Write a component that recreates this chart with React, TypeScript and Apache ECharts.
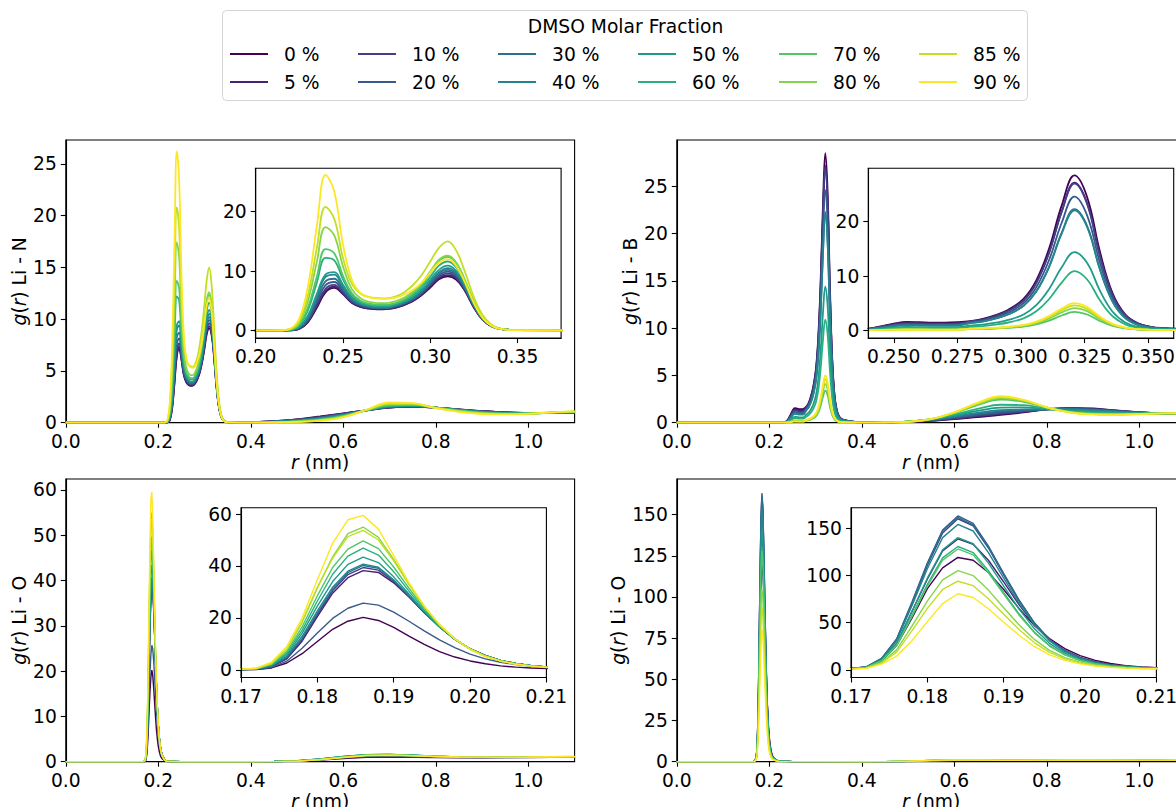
import React, { useEffect, useRef } from "react";
import * as echarts from "echarts";

const fractions = ["0 %", "5 %", "10 %", "20 %", "30 %", "40 %", "50 %", "60 %", "70 %", "80 %", "85 %", "90 %"];
const colors = ["#440154", "#482173", "#433e85", "#38598c", "#2d708e", "#25858e", "#1e9b8a", "#2ab07f", "#52c569", "#86d549", "#c2df23", "#fde725"];

// ---------- Li - N ----------
const rN = [0, 0.2, 0.21, 0.215, 0.22, 0.225, 0.23, 0.235, 0.24, 0.245, 0.25, 0.255, 0.26, 0.265, 0.27, 0.275, 0.28, 0.285, 0.29, 0.295, 0.3, 0.305, 0.31, 0.315, 0.32, 0.325, 0.33, 0.335, 0.34, 0.35, 0.4, 0.45, 0.5, 0.55, 0.6, 0.65, 0.7, 0.75, 0.8, 0.85, 0.9, 0.95, 1.0, 1.05, 1.1];
const gLiN: number[][] = [
  // 0 %
  [0, 0, 0, 0, 0.02, 0.25, 1.4, 3.8, 6.4, 7.15, 6.1, 4.65, 3.95, 3.65, 3.55, 3.6, 3.8, 4.25, 4.9, 5.9, 7.2, 8.6, 9.1, 8.5, 6.6, 3.85, 1.8, 0.72, 0.24, 0.03, 0.05, 0.15, 0.33, 0.6, 0.9, 1.2, 1.45, 1.55, 1.45, 1.28, 1.12, 1.0, 0.95, 0.93, 0.95],
  // 5 %
  [0, 0, 0, 0, 0.02, 0.3, 1.5, 4.0, 6.6, 7.35, 6.2, 4.7, 4.0, 3.7, 3.6, 3.6, 3.85, 4.3, 5.0, 6.0, 7.4, 8.8, 9.3, 8.7, 6.7, 3.9, 1.8, 0.72, 0.24, 0.03, 0.05, 0.14, 0.31, 0.57, 0.88, 1.2, 1.45, 1.55, 1.45, 1.28, 1.12, 1.0, 0.95, 0.93, 0.96],
  // 10 %
  [0, 0, 0, 0, 0.03, 0.35, 1.6, 4.3, 7.0, 7.65, 6.4, 4.8, 4.1, 3.8, 3.7, 3.7, 3.95, 4.4, 5.1, 6.1, 7.6, 9.0, 9.6, 8.9, 6.8, 4.0, 1.85, 0.73, 0.24, 0.03, 0.04, 0.13, 0.29, 0.54, 0.85, 1.2, 1.47, 1.56, 1.45, 1.27, 1.1, 0.99, 0.94, 0.94, 0.97],
  // 20 %
  [0, 0, 0, 0, 0.04, 0.4, 1.8, 4.8, 7.6, 8.15, 6.7, 5.0, 4.25, 3.9, 3.75, 3.8, 4.05, 4.5, 5.2, 6.3, 7.8, 9.3, 9.9, 9.2, 7.0, 4.1, 1.9, 0.75, 0.25, 0.03, 0.04, 0.12, 0.26, 0.5, 0.82, 1.2, 1.5, 1.58, 1.46, 1.26, 1.08, 0.97, 0.93, 0.94, 0.98],
  // 30 %
  [0, 0, 0, 0, 0.05, 0.45, 2.0, 5.2, 8.25, 8.7, 7.0, 5.2, 4.35, 3.95, 3.8, 3.8, 4.1, 4.6, 5.3, 6.4, 8.0, 9.6, 10.2, 9.4, 7.1, 4.2, 1.9, 0.76, 0.25, 0.03, 0.03, 0.1, 0.23, 0.46, 0.78, 1.2, 1.52, 1.6, 1.46, 1.25, 1.06, 0.95, 0.92, 0.95, 0.99],
  // 40 %
  [0, 0, 0, 0.01, 0.07, 0.55, 2.3, 5.8, 9.0, 9.4, 7.4, 5.4, 4.5, 4.05, 3.9, 3.9, 4.2, 4.7, 5.5, 6.6, 8.2, 9.8, 10.5, 9.7, 7.3, 4.3, 1.95, 0.78, 0.26, 0.03, 0.03, 0.09, 0.2, 0.42, 0.75, 1.2, 1.55, 1.62, 1.46, 1.24, 1.04, 0.93, 0.91, 0.95, 1.0],
  // 50 %
  [0, 0, 0, 0.01, 0.08, 0.6, 2.5, 6.1, 9.4, 9.8, 7.7, 5.6, 4.6, 4.15, 4.0, 4.0, 4.3, 4.8, 5.6, 6.8, 8.5, 10.2, 10.9, 10.0, 7.5, 4.4, 2.0, 0.8, 0.26, 0.03, 0.02, 0.08, 0.18, 0.38, 0.72, 1.2, 1.58, 1.64, 1.46, 1.22, 1.02, 0.91, 0.9, 0.96, 1.01],
  // 60 %
  [0, 0, 0, 0.01, 0.12, 0.9, 3.4, 8.0, 12.2, 11.8, 8.6, 6.0, 4.8, 4.35, 4.2, 4.2, 4.5, 5.0, 5.9, 7.2, 9.0, 10.9, 11.6, 10.6, 7.9, 4.6, 2.1, 0.8, 0.27, 0.03, 0.02, 0.07, 0.16, 0.34, 0.68, 1.2, 1.62, 1.67, 1.46, 1.2, 1.0, 0.9, 0.9, 0.97, 1.03],
  // 70 %
  [0, 0, 0, 0.01, 0.15, 1.0, 3.9, 9.0, 13.7, 13.0, 9.2, 6.3, 5.0, 4.5, 4.3, 4.3, 4.6, 5.2, 6.2, 7.6, 9.6, 11.7, 12.4, 11.3, 8.3, 4.8, 2.2, 0.85, 0.28, 0.03, 0.01, 0.05, 0.13, 0.3, 0.64, 1.2, 1.68, 1.72, 1.45, 1.17, 0.97, 0.88, 0.89, 0.98, 1.05],
  // 80 %
  [0, 0, 0, 0.02, 0.2, 1.3, 5.0, 11.5, 17.4, 16.0, 10.8, 7.0, 5.4, 4.8, 4.6, 4.6, 4.9, 5.5, 6.5, 7.9, 9.9, 11.9, 12.6, 11.4, 8.4, 4.8, 2.2, 0.85, 0.28, 0.03, 0.01, 0.04, 0.11, 0.26, 0.6, 1.22, 1.76, 1.78, 1.44, 1.13, 0.93, 0.86, 0.88, 0.99, 1.07],
  // 85 %
  [0, 0, 0, 0.02, 0.25, 1.6, 6.0, 13.8, 20.8, 18.8, 12.2, 7.9, 6.2, 5.6, 5.45, 5.4, 5.7, 6.4, 7.6, 9.3, 11.6, 13.9, 15.0, 13.4, 9.8, 5.6, 2.6, 1.0, 0.3, 0.03, 0.01, 0.03, 0.09, 0.23, 0.56, 1.25, 1.85, 1.84, 1.42, 1.08, 0.88, 0.82, 0.87, 1.0, 1.09],
  // 90 %
  [0, 0, 0, 0.02, 0.3, 2.0, 7.5, 17.5, 26.2, 23.4, 14.5, 8.6, 6.3, 5.6, 5.35, 5.3, 5.5, 6.0, 6.8, 8.0, 9.7, 11.4, 12.0, 10.8, 8.0, 4.6, 2.1, 0.8, 0.25, 0.02, 0.0, 0.02, 0.07, 0.2, 0.52, 1.25, 1.95, 1.9, 1.4, 1.04, 0.84, 0.8, 0.86, 1.0, 1.1],
];

// ---------- Li - B ----------
const rB = [0, 0.22, 0.23, 0.235, 0.24, 0.245, 0.25, 0.255, 0.26, 0.265, 0.27, 0.275, 0.28, 0.285, 0.29, 0.295, 0.301, 0.306, 0.311, 0.316, 0.321, 0.326, 0.331, 0.336, 0.341, 0.346, 0.351, 0.356, 0.361, 0.37, 0.4, 0.45, 0.5, 0.55, 0.6, 0.65, 0.7, 0.75, 0.8, 0.85, 0.9, 0.95, 1.0, 1.05, 1.1];
const gLiB: number[][] = [
  // 0 %
  [0, 0, 0.02, 0.08, 0.3, 0.75, 1.25, 1.55, 1.5, 1.42, 1.42, 1.5, 1.7, 2.1, 2.8, 3.8, 5.8, 9.2, 15.0, 23.0, 28.5, 24.5, 14.5, 6.8, 2.9, 1.3, 0.65, 0.4, 0.3, 0.2, 0.02, 0.03, 0.08, 0.2, 0.38, 0.6, 0.82, 1.1, 1.4, 1.55, 1.5, 1.3, 1.12, 1.0, 0.95],
  // 5 %
  [0, 0, 0.02, 0.07, 0.27, 0.68, 1.12, 1.4, 1.35, 1.28, 1.28, 1.35, 1.62, 2.0, 2.67, 3.63, 5.53, 8.78, 14.3, 21.9, 27.2, 23.4, 13.8, 6.49, 2.77, 1.24, 0.62, 0.38, 0.29, 0.19, 0.02, 0.03, 0.09, 0.22, 0.42, 0.66, 0.9, 1.15, 1.42, 1.54, 1.47, 1.28, 1.1, 1.0, 0.95],
  // 10 %
  [0, 0, 0.02, 0.07, 0.25, 0.62, 1.04, 1.29, 1.25, 1.18, 1.18, 1.25, 1.61, 1.99, 2.65, 3.6, 5.49, 8.71, 14.2, 21.8, 27.0, 23.2, 13.7, 6.44, 2.75, 1.23, 0.62, 0.38, 0.28, 0.19, 0.02, 0.03, 0.09, 0.24, 0.47, 0.73, 0.98, 1.2, 1.42, 1.52, 1.44, 1.26, 1.09, 0.99, 0.95],
  // 20 %
  [0, 0, 0.01, 0.06, 0.22, 0.55, 0.92, 1.14, 1.1, 1.04, 1.04, 1.1, 1.47, 1.81, 2.42, 3.28, 5.0, 7.94, 12.9, 19.8, 24.6, 21.1, 12.5, 5.87, 2.5, 1.12, 0.56, 0.35, 0.26, 0.17, 0.02, 0.03, 0.1, 0.27, 0.53, 0.82, 1.08, 1.26, 1.42, 1.48, 1.4, 1.23, 1.08, 0.99, 0.96],
  // 30 %
  [0, 0, 0.01, 0.05, 0.2, 0.5, 0.83, 1.03, 1.0, 0.95, 0.95, 1.0, 1.33, 1.64, 2.19, 2.97, 4.54, 7.19, 11.7, 18.0, 22.3, 19.2, 11.3, 5.32, 2.27, 1.02, 0.51, 0.31, 0.23, 0.16, 0.01, 0.03, 0.11, 0.3, 0.6, 0.93, 1.2, 1.33, 1.42, 1.44, 1.35, 1.2, 1.06, 0.99, 0.96],
  // 40 %
  [0, 0, 0.01, 0.05, 0.18, 0.45, 0.75, 0.93, 0.9, 0.85, 0.85, 0.9, 1.32, 1.63, 2.17, 2.95, 4.5, 7.13, 11.6, 17.8, 22.1, 19.0, 11.2, 5.27, 2.25, 1.01, 0.5, 0.31, 0.23, 0.16, 0.01, 0.03, 0.12, 0.33, 0.68, 1.05, 1.32, 1.4, 1.42, 1.4, 1.3, 1.17, 1.05, 0.99, 0.97],
  // 50 %
  [0, 0, 0.01, 0.03, 0.12, 0.3, 0.5, 0.62, 0.6, 0.57, 0.57, 0.6, 0.86, 1.06, 1.41, 1.92, 2.93, 4.65, 7.58, 11.6, 14.4, 12.4, 7.32, 3.43, 1.46, 0.66, 0.33, 0.2, 0.15, 0.1, 0.01, 0.03, 0.12, 0.36, 0.78, 1.25, 1.6, 1.62, 1.45, 1.3, 1.18, 1.08, 1.02, 0.99, 0.98],
  // 60 %
  [0, 0, 0, 0.02, 0.09, 0.23, 0.38, 0.47, 0.45, 0.43, 0.43, 0.45, 0.65, 0.8, 1.07, 1.45, 2.22, 3.51, 5.73, 8.79, 10.9, 9.36, 5.54, 2.6, 1.11, 0.5, 0.25, 0.15, 0.11, 0.08, 0.01, 0.03, 0.12, 0.38, 0.86, 1.45, 1.9, 1.85, 1.5, 1.2, 1.05, 1.0, 0.99, 0.99, 0.99],
  // 70 %
  [0, 0, 0, 0.01, 0.04, 0.1, 0.17, 0.21, 0.2, 0.19, 0.19, 0.2, 0.22, 0.26, 0.34, 0.46, 0.69, 1.1, 1.79, 2.74, 3.4, 2.92, 1.73, 0.81, 0.35, 0.15, 0.08, 0.05, 0.04, 0.02, 0.0, 0.02, 0.11, 0.38, 1.0, 1.85, 2.45, 2.2, 1.6, 1.15, 0.95, 0.9, 0.94, 0.98, 1.0],
  // 80 %
  [0, 0, 0, 0.01, 0.04, 0.09, 0.15, 0.19, 0.18, 0.17, 0.17, 0.18, 0.25, 0.3, 0.4, 0.55, 0.84, 1.32, 2.16, 3.31, 4.1, 3.53, 2.09, 0.98, 0.42, 0.19, 0.09, 0.06, 0.04, 0.03, 0.0, 0.02, 0.1, 0.38, 1.05, 1.95, 2.6, 2.3, 1.6, 1.12, 0.92, 0.88, 0.93, 0.98, 1.0],
  // 85 %
  [0, 0, 0, 0.01, 0.03, 0.08, 0.13, 0.16, 0.15, 0.14, 0.14, 0.15, 0.27, 0.34, 0.45, 0.61, 0.93, 1.48, 2.42, 3.7, 4.6, 3.94, 2.33, 1.09, 0.47, 0.21, 0.1, 0.06, 0.05, 0.03, 0.0, 0.02, 0.1, 0.39, 1.08, 2.05, 2.72, 2.38, 1.62, 1.1, 0.9, 0.86, 0.92, 0.98, 1.01],
  // 90 %
  [0, 0, 0, 0.01, 0.02, 0.06, 0.1, 0.12, 0.12, 0.11, 0.11, 0.12, 0.3, 0.37, 0.49, 0.67, 1.02, 1.61, 2.63, 4.03, 5.0, 4.29, 2.54, 1.19, 0.51, 0.23, 0.11, 0.07, 0.05, 0.04, 0.0, 0.02, 0.1, 0.4, 1.1, 2.1, 2.8, 2.42, 1.62, 1.08, 0.88, 0.85, 0.91, 0.98, 1.01],
];

// ---------- Li - O (both lower panels share this r grid) ----------
const rO = [0, 0.166, 0.168, 0.17, 0.172, 0.174, 0.176, 0.178, 0.18, 0.182, 0.184, 0.186, 0.188, 0.19, 0.192, 0.194, 0.196, 0.198, 0.2, 0.202, 0.204, 0.206, 0.208, 0.21, 0.214, 0.22, 0.25, 0.4, 0.45, 0.5, 0.55, 0.6, 0.65, 0.7, 0.75, 0.8, 0.85, 0.9, 0.95, 1.0, 1.05, 1.1];
const gLiO: number[][] = [
  // 0 %
  [0, 0, 0, 0.0, 0.1, 0.7, 2.6, 6.2, 10.9, 15.6, 18.7, 20.2, 19.0, 16.3, 13.0, 9.8, 7.0, 4.9, 3.4, 2.3, 1.5, 1.0, 0.7, 0.5, 0.2, 0.03, 0, 0, 0.02, 0.1, 0.35, 0.7, 0.95, 1.0, 0.95, 0.9, 0.88, 0.88, 0.9, 0.92, 0.95, 0.97],
  // 5 %
  [0, 0, 0, 0.1, 0.3, 1.2, 4.2, 11.0, 20.5, 29.5, 35.5, 38.2, 37.5, 33.5, 28.0, 22.0, 16.5, 11.7, 8.0, 5.4, 3.6, 2.4, 1.6, 1.1, 0.4, 0.04, 0, 0, 0.03, 0.15, 0.5, 1.0, 1.35, 1.4, 1.3, 1.15, 1.05, 1.0, 0.98, 0.98, 1.0, 1.02],
  // 10 %
  [0, 0, 0, 0.1, 0.3, 1.3, 4.5, 11.6, 21.2, 30.4, 36.7, 39.4, 38.4, 34.0, 28.3, 22.2, 16.6, 11.8, 8.1, 5.5, 3.6, 2.4, 1.6, 1.1, 0.4, 0.04, 0, 0, 0.03, 0.16, 0.52, 1.05, 1.4, 1.45, 1.32, 1.16, 1.05, 1.0, 0.98, 0.98, 1.0, 1.03],
  // 20 %
  [0, 0, 0, 0.0, 0.2, 0.9, 3.3, 8.3, 14.2, 19.8, 23.7, 25.7, 24.9, 22.2, 18.7, 15.0, 11.5, 8.5, 6.0, 4.2, 2.9, 2.0, 1.4, 1.0, 0.35, 0.04, 0, 0, 0.02, 0.12, 0.42, 0.85, 1.15, 1.2, 1.1, 1.0, 0.95, 0.93, 0.93, 0.95, 0.97, 0.99],
  // 30 %
  [0, 0, 0, 0.1, 0.3, 1.4, 4.8, 12.0, 21.8, 31.0, 37.4, 40.2, 39.1, 34.4, 28.5, 22.3, 16.6, 11.8, 8.1, 5.5, 3.6, 2.4, 1.6, 1.1, 0.4, 0.04, 0, 0, 0.04, 0.18, 0.56, 1.1, 1.48, 1.52, 1.38, 1.18, 1.05, 1.0, 0.98, 0.99, 1.01, 1.04],
  // 40 %
  [0, 0, 0, 0.1, 0.4, 1.5, 5.2, 12.8, 22.7, 31.8, 38.0, 40.7, 39.5, 34.7, 28.6, 22.3, 16.6, 11.8, 8.0, 5.4, 3.6, 2.4, 1.6, 1.1, 0.4, 0.04, 0, 0, 0.04, 0.2, 0.6, 1.15, 1.55, 1.6, 1.42, 1.2, 1.06, 1.0, 0.98, 0.99, 1.02, 1.05],
  // 50 %
  [0, 0, 0, 0.1, 0.4, 1.7, 5.8, 14.0, 24.5, 34.0, 40.6, 43.4, 41.3, 35.8, 29.2, 22.5, 16.6, 11.8, 8.0, 5.4, 3.6, 2.4, 1.6, 1.1, 0.4, 0.04, 0, 0, 0.04, 0.2, 0.6, 1.15, 1.57, 1.62, 1.45, 1.22, 1.07, 1.0, 0.98, 0.99, 1.02, 1.06],
  // 60 %
  [0, 0, 0, 0.1, 0.4, 1.9, 6.4, 15.2, 26.5, 36.8, 43.8, 46.9, 44.2, 37.8, 30.3, 23.0, 16.8, 11.8, 8.0, 5.3, 3.5, 2.3, 1.5, 1.0, 0.35, 0.04, 0, 0, 0.03, 0.18, 0.56, 1.1, 1.52, 1.58, 1.42, 1.2, 1.06, 1.0, 0.98, 1.0, 1.03, 1.08],
  // 70 %
  [0, 0, 0, 0.1, 0.5, 2.1, 7.0, 16.5, 28.5, 39.4, 46.5, 49.7, 46.7, 39.6, 31.4, 23.6, 17.0, 11.9, 8.0, 5.3, 3.5, 2.3, 1.5, 1.0, 0.35, 0.04, 0, 0, 0.03, 0.16, 0.52, 1.05, 1.47, 1.52, 1.38, 1.18, 1.05, 1.0, 0.99, 1.01, 1.05, 1.1],
  // 80 %
  [0, 0, 0, 0.2, 0.5, 2.4, 7.8, 18.2, 31.5, 43.5, 52.5, 55.0, 51.0, 42.5, 33.0, 24.4, 17.3, 11.9, 8.0, 5.2, 3.4, 2.2, 1.5, 1.0, 0.35, 0.04, 0, 0, 0.02, 0.14, 0.48, 1.0, 1.42, 1.48, 1.35, 1.16, 1.04, 1.0, 0.99, 1.02, 1.07, 1.12],
  // 85 %
  [0, 0, 0, 0.2, 0.5, 2.4, 7.9, 18.6, 31.8, 43.0, 51.3, 53.7, 50.0, 42.0, 32.8, 24.3, 17.3, 11.9, 8.0, 5.2, 3.4, 2.2, 1.5, 1.0, 0.35, 0.04, 0, 0, 0.02, 0.13, 0.45, 0.96, 1.38, 1.45, 1.33, 1.15, 1.04, 1.0, 1.0, 1.03, 1.08, 1.14],
  // 90 %
  [0, 0, 0, 0.2, 0.6, 2.9, 9.0, 19.9, 34.7, 48.8, 57.8, 59.5, 54.2, 44.0, 33.6, 24.6, 17.4, 11.9, 7.9, 5.1, 3.3, 2.1, 1.4, 0.9, 0.3, 0.03, 0, 0, 0.02, 0.12, 0.42, 0.92, 1.33, 1.42, 1.31, 1.14, 1.03, 1.0, 1.0, 1.04, 1.1, 1.16],
];
const gLiO2: number[][] = [
  // 0 %
  [0, 0, 0.3, 1.0, 2.5, 9.0, 26, 55, 86, 108, 119, 116, 103, 85, 65, 47, 33, 22.5, 15, 10, 6.6, 4.4, 3.0, 2.2, 1.2, 0.4, 0.03, 0, 0.03, 0.15, 0.45, 0.7, 0.85, 0.9, 1.0, 1.15, 1.2, 1.1, 1.0, 0.97, 0.98, 1.0],
  // 5 %
  [0, 0, 0.3, 1.2, 2.6, 10.2, 28, 62, 96, 126, 138.6, 133, 116, 93, 69, 48, 32, 20.5, 13.2, 8.5, 5.6, 3.8, 2.7, 2.1, 1.1, 0.4, 0.03, 0, 0.03, 0.17, 0.5, 0.78, 0.9, 0.9, 0.98, 1.12, 1.18, 1.1, 1.0, 0.97, 0.98, 1.0],
  // 10 %
  [0, 0, 0.4, 1.5, 2.9, 11.5, 32, 70, 110.5, 145, 160, 152.5, 129, 100.5, 73, 49.3, 31.6, 19.8, 12.4, 7.7, 5.0, 3.5, 2.5, 2.0, 1.1, 0.4, 0.03, 0, 0.04, 0.2, 0.55, 0.85, 0.93, 0.9, 0.96, 1.1, 1.16, 1.09, 1.0, 0.97, 0.98, 1.0],
  // 20 %
  [0, 0, 0.4, 1.5, 3.0, 12, 33, 72, 113, 148, 163, 155, 131, 102, 74, 50, 32, 20, 12.5, 7.8, 5.0, 3.5, 2.5, 2.0, 1.1, 0.4, 0.03, 0, 0.04, 0.21, 0.58, 0.88, 0.95, 0.9, 0.95, 1.09, 1.15, 1.09, 1.0, 0.97, 0.98, 1.0],
  // 30 %
  [0, 0, 0.4, 1.5, 3.0, 11.8, 32.5, 71, 112, 147, 161.5, 153.5, 130, 101.5, 73.5, 49.7, 31.8, 19.9, 12.4, 7.8, 5.0, 3.5, 2.5, 2.0, 1.1, 0.4, 0.03, 0, 0.04, 0.22, 0.62, 0.92, 0.97, 0.9, 0.93, 1.07, 1.14, 1.08, 1.0, 0.97, 0.98, 1.0],
  // 40 %
  [0, 0, 0.4, 1.4, 2.8, 11.2, 31, 68, 107, 140, 154, 147, 124, 97, 70.5, 47.7, 30.6, 19.2, 12.0, 7.5, 4.8, 3.4, 2.4, 1.9, 1.0, 0.4, 0.03, 0, 0.05, 0.24, 0.66, 0.96, 0.99, 0.89, 0.91, 1.05, 1.13, 1.08, 1.01, 0.97, 0.98, 1.0],
  // 50 %
  [0, 0, 0.3, 1.3, 2.6, 10.2, 28, 62, 97, 127, 140, 133.5, 113, 88.5, 64.5, 43.6, 28.0, 17.6, 11.0, 6.9, 4.5, 3.1, 2.2, 1.8, 1.0, 0.35, 0.03, 0, 0.05, 0.25, 0.7, 1.0, 1.01, 0.88, 0.89, 1.03, 1.12, 1.08, 1.01, 0.97, 0.98, 1.0],
  // 60 %
  [0, 0, 0.3, 1.2, 2.4, 9.6, 26.4, 57.7, 90.5, 118.6, 130.6, 124.2, 105, 81.7, 59.3, 40.1, 25.6, 16.0, 10.0, 6.3, 4.0, 2.8, 2.0, 1.6, 0.9, 0.3, 0.02, 0, 0.05, 0.27, 0.73, 1.03, 1.03, 0.87, 0.88, 1.02, 1.11, 1.07, 1.01, 0.97, 0.98, 1.0],
  // 70 %
  [0, 0, 0.3, 1.2, 2.4, 9.4, 25.9, 56.5, 88.7, 116.2, 128, 121.7, 102.8, 80.1, 58.1, 39.3, 25.1, 15.7, 9.8, 6.1, 3.9, 2.7, 2.0, 1.6, 0.9, 0.3, 0.02, 0, 0.05, 0.28, 0.76, 1.06, 1.04, 0.86, 0.86, 1.0, 1.1, 1.07, 1.01, 0.97, 0.98, 1.0],
  // 80 %
  [0, 0, 0.2, 1.0, 1.9, 7.7, 21.3, 46.4, 72.8, 95.3, 105, 99.8, 84.4, 65.7, 47.7, 32.2, 20.6, 12.9, 8.1, 5.0, 3.2, 2.3, 1.6, 1.3, 0.7, 0.25, 0.02, 0, 0.05, 0.29, 0.78, 1.08, 1.05, 0.85, 0.85, 0.99, 1.1, 1.07, 1.01, 0.97, 0.98, 1.0],
  // 85 %
  [0, 0, 0.2, 0.9, 1.7, 6.9, 19.0, 41.4, 65.0, 85.1, 93.8, 89.1, 75.3, 58.7, 42.6, 28.8, 18.4, 11.5, 7.2, 4.5, 2.9, 2.0, 1.4, 1.2, 0.6, 0.2, 0.02, 0, 0.05, 0.3, 0.8, 1.1, 1.05, 0.85, 0.84, 0.98, 1.09, 1.06, 1.01, 0.97, 0.98, 1.0],
  // 90 %
  [0, 0, 0.2, 0.7, 1.5, 5.9, 14.5, 31.0, 51.0, 70.0, 80.5, 76.6, 64.7, 50.4, 36.6, 24.7, 15.8, 9.9, 6.2, 3.9, 2.5, 1.7, 1.2, 1.0, 0.5, 0.2, 0.02, 0, 0.05, 0.3, 0.8, 1.1, 1.05, 0.85, 0.84, 0.98, 1.1, 1.05, 0.98, 0.96, 0.98, 1.0],
];

// ---------- tick labels ----------
const mainXTicks = [0, 0.2, 0.4, 0.6, 0.8, 1.0];
const yTicksN = [0, 5, 10, 15, 20, 25];
const yTicksB = [0, 5, 10, 15, 20, 25];
const yTicksO = [0, 10, 20, 30, 40, 50, 60];
const yTicksO2 = [0, 25, 50, 75, 100, 125, 150];
const insetXTicksN = [0.2, 0.25, 0.3, 0.35];
const insetXTicksB = [0.25, 0.275, 0.3, 0.325, 0.35];
const insetXTicksO = [0.17, 0.18, 0.19, 0.2, 0.21];
const insetYTicksN = [0, 10, 20];
const insetYTicksB = [0, 10, 20];
const insetYTicksO = [0, 20, 40, 60];
const insetYTicksO2 = [0, 50, 100, 150];
const yLabels = ["Li - N", "Li - B", "Li - O", "Li - O"];

const FONT = "DejaVu Sans";
const FS = 18.7;
const AX = "#000";

function buildOption() {
  const MW = 508.8, MH = 282.7, IW = 305.4, IH = 169.8;
  const panels = [
    { r: rN, g: gLiN, smooth: 0.4, lw: 1.8, left: 65.8, top: 140, ymax: 27.3, yt: yTicksN,
      inset: { left: 255.7, top: 168.3, xmin: 0.2, xmax: 0.375, ymin: -1.3, ymax: 27.3, xt: insetXTicksN, dec: 2, yt: insetYTicksN } },
    { r: rB, g: gLiB, smooth: 0.4, lw: 1.8, left: 676.8, top: 140, ymax: 29.9, yt: yTicksB,
      inset: { left: 868.3, top: 168.3, xmin: 0.24, xmax: 0.36, ymin: -1.42, ymax: 29.82, xt: insetXTicksB, dec: 3, yt: insetYTicksB } },
    { r: rO, g: gLiO, smooth: false, lw: 1.4, left: 65.8, top: 479, ymax: 62.4, yt: yTicksO,
      inset: { left: 241, top: 507.7, xmin: 0.17, xmax: 0.21, ymin: -2.98, ymax: 62.45, xt: insetXTicksO, dec: 2, yt: insetYTicksO } },
    { r: rO, g: gLiO2, smooth: false, lw: 1.4, left: 676.8, top: 479, ymax: 171.6, yt: yTicksO2,
      inset: { left: 851, top: 507.7, xmin: 0.17, xmax: 0.21, ymin: -8.2, ymax: 171.7, xt: insetXTicksO, dec: 2, yt: insetYTicksO2 } },
  ];

  const grid: any[] = [];
  const xAxis: any[] = [];
  const yAxis: any[] = [];
  const series: any[] = [];
  const lineAx = { show: true, onZero: false, lineStyle: { color: AX, width: 1.1 } };
  const label = (vals: number[], fmt: (v: number) => string, margin: number) => ({
    show: true, customValues: vals, formatter: fmt, color: "#000", fontSize: FS, fontFamily: FONT, margin,
  });
  const tick = (vals: number[]) => ({ show: true, inside: false, length: 5, customValues: vals, lineStyle: { color: AX, width: 1.1 } });

  panels.forEach((p, k) => {
    grid[k] = { left: p.left, top: p.top, width: MW, height: MH, show: true, backgroundColor: "transparent",
      borderColor: AX, borderWidth: 1.1, containLabel: false, outerBoundsMode: "none", z: 0 };
    grid[k + 4] = { left: p.inset.left, top: p.inset.top, width: IW, height: IH, show: true, backgroundColor: "#fff",
      borderColor: AX, borderWidth: 1.1, containLabel: false, outerBoundsMode: "none", z: 5 };

    xAxis[k] = {
      type: "value", gridIndex: k, min: 0, max: 1.1, axisLine: lineAx, splitLine: { show: false },
      axisTick: tick(mainXTicks), axisLabel: label(mainXTicks, (v) => v.toFixed(1), 9),
      name: "{i|r} (nm)", nameLocation: "middle", nameGap: 30,
      nameTextStyle: { color: "#000", fontSize: FS, fontFamily: FONT, verticalAlign: "top",
        rich: { i: { fontStyle: "italic", fontSize: FS, fontFamily: FONT, color: "#000" } } },
    };
    yAxis[k] = {
      type: "value", gridIndex: k, min: 0, max: p.ymax, axisLine: lineAx, splitLine: { show: false },
      axisTick: tick(p.yt), axisLabel: label(p.yt, (v) => String(v), 9),
      name: "{i|g}({i|r}) " + yLabels[k], nameLocation: "middle", nameGap: 28, nameRotate: 90,
      nameTextStyle: { color: "#000", fontSize: FS, fontFamily: FONT,
        rich: { i: { fontStyle: "italic", fontSize: FS, fontFamily: FONT, color: "#000" } } },
    };
    const ins = p.inset;
    xAxis[k + 4] = {
      type: "value", gridIndex: k + 4, min: ins.xmin, max: ins.xmax, z: 7, axisLine: lineAx, splitLine: { show: false },
      axisTick: tick(ins.xt), axisLabel: label(ins.xt, (v) => v.toFixed(ins.dec), 9),
    };
    yAxis[k + 4] = {
      type: "value", gridIndex: k + 4, min: ins.ymin, max: ins.ymax, z: 7, axisLine: lineAx, splitLine: { show: false },
      axisTick: tick(ins.yt), axisLabel: label(ins.yt, (v) => String(v), 9),
    };

    p.g.forEach((vals, i) => {
      const data = p.r.map((x, j) => [x, vals[j]]);
      const base = {
        type: "line", name: fractions[i], data, showSymbol: false, symbol: "none", smooth: p.smooth,
        lineStyle: { color: colors[i], width: p.lw }, itemStyle: { color: colors[i] },
        emphasis: { disabled: true }, silent: true, animation: false, clip: true,
      };
      series.push({ ...base, xAxisIndex: k, yAxisIndex: k, z: 2 });
      series.push({ ...base, xAxisIndex: k + 4, yAxisIndex: k + 4, z: 6 });
    });
  });

  const legendLefts = [230, 358, 498, 638, 779, 919];
  const legend = legendLefts.map((left, c) => ({
    orient: "vertical", left, top: 40, itemGap: 0, itemWidth: 38, itemHeight: 2, icon: "rect",
    padding: 0, selectedMode: false,
    data: [fractions[2 * c], fractions[2 * c + 1]],
    textStyle: { color: "#000", fontSize: FS, fontFamily: FONT, lineHeight: 28, padding: [0, 0, 0, 11] },
  }));

  return {
    animation: false,
    backgroundColor: "#fff",
    textStyle: { fontFamily: FONT },
    grid, xAxis, yAxis, series, legend,
    graphic: [
      { type: "rect", z: 0, silent: true, shape: { x: 222.5, y: 10.5, width: 805, height: 90, r: 4 },
        style: { fill: "#fff", stroke: "#d4d4d4", lineWidth: 1 } },
      { type: "text", z: 1, silent: true, x: 625.5, y: 26,
        style: { text: "DMSO Molar Fraction", fill: "#000", fontSize: FS, fontFamily: FONT,
          align: "center", verticalAlign: "middle", textAlign: "center", textVerticalAlign: "middle" } },
    ],
  };
}

export default function App() {
  const ref = useRef<HTMLDivElement>(null);
  useEffect(() => {
    const chart = echarts.init(ref.current as HTMLDivElement, null, { renderer: "svg" });
    chart.setOption(buildOption() as any);
    return () => chart.dispose();
  }, []);
  return (
    <div
      ref={ref}
      style={{ position: "fixed", left: 0, top: 0, width: 1176, height: 807, background: "#fff", overflow: "hidden" }}
    />
  );
}
